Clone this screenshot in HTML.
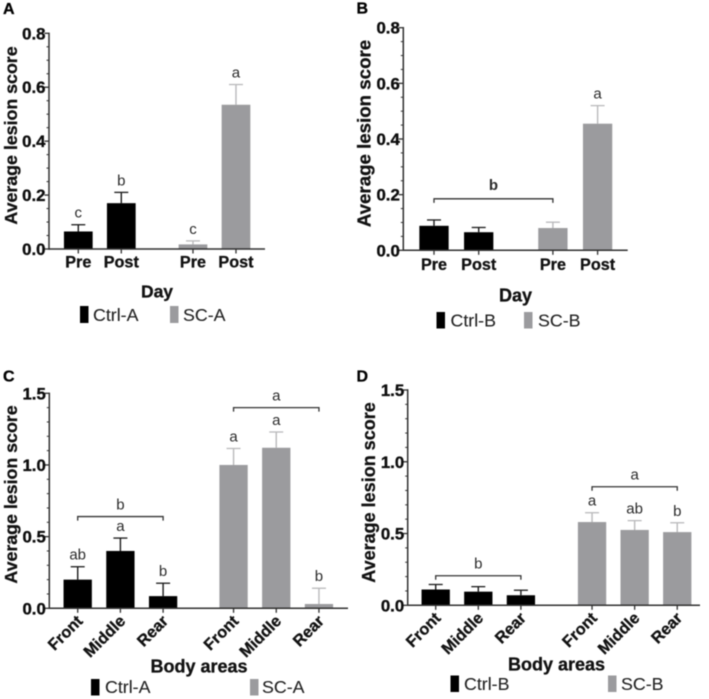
<!DOCTYPE html>
<html lang="en">
<head>
<meta charset="utf-8">
<title>Average lesion score panels</title>
<style>
html,body{margin:0;padding:0;background:#fff;width:709px;height:699px;overflow:hidden}
svg{display:block;filter:blur(.5px)}
text{font-family:"Liberation Sans",sans-serif;fill:#1c1c1c}
.b{font-weight:700;fill:#111;stroke:#111;stroke-width:.3px}
.panel-letter{font-weight:700;font-size:16px;fill:#000;stroke:#000;stroke-width:.3px}
.legend{font-size:17.8px;fill:#222;stroke:#222;stroke-width:.1px}
.sig{font-size:15px;fill:#2a2a2a;text-anchor:middle}
.sig-bold{font-weight:700}
.tick{font-weight:700;font-size:16.8px;fill:#0d0d0d;stroke:#0d0d0d;stroke-width:.35px;text-anchor:end}
.cat{font-weight:700;font-size:16.2px;fill:#111;stroke:#111;stroke-width:.3px}
</style>
</head>
<body>
<svg id="figure" width="709" height="699" viewBox="0 0 709 699" xmlns="http://www.w3.org/2000/svg">
  <text class="panel-letter" x="3" y="14">A</text>
  <text class="panel-letter" x="356.5" y="13.5">B</text>
  <text class="panel-letter" x="3" y="381.5">C</text>
  <text class="panel-letter" x="356.5" y="381.5">D</text>

  <text class="b" font-size="17.8" text-anchor="middle" transform="translate(17 135.5) rotate(-90)">Average lesion score</text>
  <text class="b" font-size="18.7" text-anchor="middle" transform="translate(370.5 133.5) rotate(-90)">Average lesion score</text>
  <text class="b" font-size="17.8" text-anchor="middle" transform="translate(17 494.5) rotate(-90)">Average lesion score</text>
  <text class="b" font-size="18" text-anchor="middle" transform="translate(375 492.5) rotate(-90)">Average lesion score</text>

  <text class="b" font-size="17.5" text-anchor="middle" x="157" y="297.5">Day</text>
  <text class="b" font-size="18" text-anchor="middle" x="515.5" y="301.5">Day</text>
  <text class="b" font-size="18" text-anchor="middle" x="199" y="672.5">Body areas</text>
  <text class="b" font-size="18" text-anchor="middle" x="556.5" y="670.5">Body areas</text>

  <g>
    <rect x="80" y="306" width="8.5" height="17" fill="#000"/>
    <text class="legend" x="93" y="321">Ctrl-A</text>
    <rect x="170" y="306" width="8.5" height="17" fill="#9b9b9e"/>
    <text class="legend" x="183" y="321">SC-A</text>
  </g>
  <g>
    <rect x="436.5" y="312" width="8.5" height="16.5" fill="#000"/>
    <text class="legend" x="450.5" y="326.5">Ctrl-B</text>
    <rect x="524" y="312" width="8.5" height="16.5" fill="#9b9b9e"/>
    <text class="legend" x="538" y="326.5">SC-B</text>
  </g>
  <g>
    <rect x="91" y="679" width="8.5" height="16.5" fill="#000"/>
    <text class="legend" x="105" y="693">Ctrl-A</text>
    <rect x="250" y="679" width="8.5" height="16.5" fill="#9b9b9e"/>
    <text class="legend" x="262" y="693">SC-A</text>
  </g>
  <g>
    <rect x="450.5" y="675.5" width="8.5" height="16.5" fill="#000"/>
    <text class="legend" x="464" y="690">Ctrl-B</text>
    <rect x="608" y="675.5" width="8.5" height="16.5" fill="#9b9b9e"/>
    <text class="legend" x="621" y="690">SC-B</text>
  </g>
</svg>

<script>
// ---- Chart data ----
const dayCategories = ['Pre', 'Post', 'Pre', 'Post'];
const areaCategories = ['Front', 'Middle', 'Rear', 'Front', 'Middle', 'Rear'];

const aValues = [0.065, 0.17, 0.017, 0.535];
const aErrorTops = [0.09, 0.21, 0.03, 0.61];
const aLetters = ['c', 'b', 'c', 'a'];
const aTicks = [0.0, 0.2, 0.4, 0.6, 0.8];
const aBracketStart = [];
const aBracketEnd = [];
const aBracketLevel = [];
const aBracketLetter = [];

const bValues = [0.088, 0.065, 0.08, 0.455];
const bErrorTops = [0.109, 0.082, 0.101, 0.52];
const bLetters = ['', '', '', 'a'];
const bTicks = [0.0, 0.2, 0.4, 0.6, 0.8];
const bBracketStart = [0];
const bBracketEnd = [2];
const bBracketLevel = [0.185];
const bBracketLetter = ['b'];

const cValues = [0.2, 0.4, 0.085, 1.0, 1.12, 0.03];
const cErrorTops = [0.29, 0.49, 0.175, 1.115, 1.23, 0.14];
const cLetters = ['ab', 'a', 'b', 'a', 'a', 'b'];
const cTicks = [0.0, 0.5, 1.0, 1.5];
const cBracketStart = [0, 3];
const cBracketEnd = [2, 5];
const cBracketLevel = [0.64, 1.4];
const cBracketLetter = ['b', 'a'];

const dValues = [0.11, 0.095, 0.07, 0.58, 0.525, 0.51];
const dErrorTops = [0.145, 0.13, 0.105, 0.645, 0.59, 0.575];
const dLetters = ['', '', '', 'a', 'ab', 'b'];
const dTicks = [0.0, 0.5, 1.0, 1.5];
const dBracketStart = [0, 3];
const dBracketEnd = [2, 5];
const dBracketLevel = [0.206, 0.826];
const dBracketLetter = ['b', 'a'];

// ---- Panel frames (layout only) ----
const panels = [
  {id:'a', cats:dayCategories, vals:aValues, tops:aErrorTops, letters:aLetters, ticks:aTicks, minorPerMajor:4,
   bs:aBracketStart, be:aBracketEnd, bl:aBracketLevel, bt:aBracketLetter, boldBracket:false,
   axisX:49, y0:249, yTop:33.3, xEnd:265, first:78.3, step:43, gap:0.667, barW:28.7, rotated:false, catY:267.5},
  {id:'b', cats:dayCategories, vals:bValues, tops:bErrorTops, letters:bLetters, ticks:bTicks, minorPerMajor:4,
   bs:bBracketStart, be:bBracketEnd, bl:bBracketLevel, bt:bBracketLetter, boldBracket:true,
   axisX:403.3, y0:250.3, yTop:27.7, xEnd:627.7, first:434, step:44.7, gap:0.66, barW:29.3, rotated:false, catY:270},
  {id:'c', cats:areaCategories, vals:cValues, tops:cErrorTops, letters:cLetters, ticks:cTicks, minorPerMajor:5,
   bs:cBracketStart, be:cBracketEnd, bl:cBracketLevel, bt:cBracketLetter, boldBracket:false,
   axisX:49.3, y0:608.3, yTop:393.3, xEnd:348, first:77.7, step:42.7, gap:0.65, barW:28.3, rotated:true, catY:622},
  {id:'d', cats:areaCategories, vals:dValues, tops:dErrorTops, letters:dLetters, ticks:dTicks, minorPerMajor:5,
   bs:dBracketStart, be:dBracketEnd, bl:dBracketLevel, bt:dBracketLetter, boldBracket:false,
   axisX:407.7, y0:605.3, yTop:390, xEnd:700, first:435.7, step:42.6, gap:0.67, barW:28.3, rotated:true, catY:619}
];

const NS = 'http://www.w3.org/2000/svg';
const figure = document.getElementById('figure');
const AXIS = '#303030', BLACK = '#000000', GREY = '#9b9b9e', GREY_ERR = '#b9b9bb';

function make(tag, attrs, parent) {
  const n = document.createElementNS(NS, tag);
  for (const k in attrs) n.setAttribute(k, attrs[k]);
  parent.appendChild(n);
  return n;
}

panels.forEach(function (p) {
  const maxTick = p.ticks[p.ticks.length - 1];
  const yScale = v => p.y0 - (v / maxTick) * (p.y0 - p.yTop);
  const half = p.vals.length / 2;
  const xScale = i => p.first + p.step * (i + (i >= half ? p.gap : 0));

  const g = make('g', {}, figure);
  
  

  // bars, error bars, significance letters, x ticks and labels
  p.vals.forEach(function (v, i) {
    const cx = xScale(i);
    const color = i < half ? BLACK : GREY;
    const errColor = i < half ? '#1a1a1a' : GREY_ERR;

    const stem = make('line', {x1:cx, x2:cx, y1:yScale(v), y2:yScale(p.tops[i]), stroke:errColor, 'stroke-width':1.4}, g);
    
    

    const cap = make('line', {x1:cx - 7, x2:cx + 7, y1:yScale(p.tops[i]), y2:yScale(p.tops[i]), stroke:errColor, 'stroke-width':1.3}, g);
    
    

    const bar = make('rect', {x:cx - p.barW / 2, width:p.barW, y:yScale(v), height:p.y0 - yScale(v), fill:color}, g);
    
    

    if (p.letters[i]) {
      const sig = make('text', {x:cx, y:yScale(p.tops[i]) - 7, class:'sig'}, g);
      sig.textContent = p.letters[i];
      
      
    }

    const xt = make('line', {x1:cx, x2:cx, y1:p.y0, y2:p.y0 + 4.5, stroke:AXIS, 'stroke-width':1.3}, g);
    
    

    const attrs = p.rotated
      ? {class:'cat', 'text-anchor':'end', transform:'translate(' + (cx + 6) + ' ' + p.catY + ') rotate(-45)'}
      : {class:'cat', 'text-anchor':'middle', x:cx, y:p.catY};
    const lab = make('text', attrs, g);
    lab.textContent = p.cats[i];
    
    
  });

  // brackets
  p.bl.forEach(function (level, k) {
    const x1 = xScale(p.bs[k]), x2 = xScale(p.be[k]), y = yScale(level);
    const br = make('path', {d:'M' + x1 + ' ' + (y + 4) + 'V' + y + 'H' + x2 + 'V' + (y + 4), fill:'none', stroke:'#333', 'stroke-width':1.3}, g);
    
    

    const bt = make('text', {x:(x1 + x2) / 2, y:y - (p.boldBracket ? 9 : 7), class:p.boldBracket ? 'sig sig-bold' : 'sig'}, g);
    bt.textContent = p.bt[k];
    
    
  });

  // axes
  const yAxis = make('line', {x1:p.axisX, x2:p.axisX, y1:p.yTop - 0.7, y2:p.y0 + 0.7, stroke:AXIS, 'stroke-width':1.5}, g);
  
  

  const xAxis = make('line', {x1:p.axisX, x2:p.xEnd, y1:p.y0, y2:p.y0, stroke:AXIS, 'stroke-width':1.5}, g);
  
  

  // y ticks
  p.ticks.forEach(function (t, i) {
    const y = yScale(t);
    const tick = make('line', {x1:p.axisX - 4.5, x2:p.axisX, y1:y, y2:y, stroke:AXIS, 'stroke-width':1.3}, g);
    
    

    const label = make('text', {x:p.axisX - 3.5, y:y + 6, class:'tick'}, g);
    label.textContent = t.toFixed(1);
    
    

    if (i < p.ticks.length - 1) {
      const span = p.ticks[i + 1] - t;
      for (let m = 1; m < p.minorPerMajor; m++) {
        const my = yScale(t + span * m / p.minorPerMajor);
        const minor = make('line', {x1:p.axisX - 2.5, x2:p.axisX, y1:my, y2:my, stroke:AXIS, 'stroke-width':1}, g);
        
        
      }
    }
  });
});
</script>
</body>
</html>
